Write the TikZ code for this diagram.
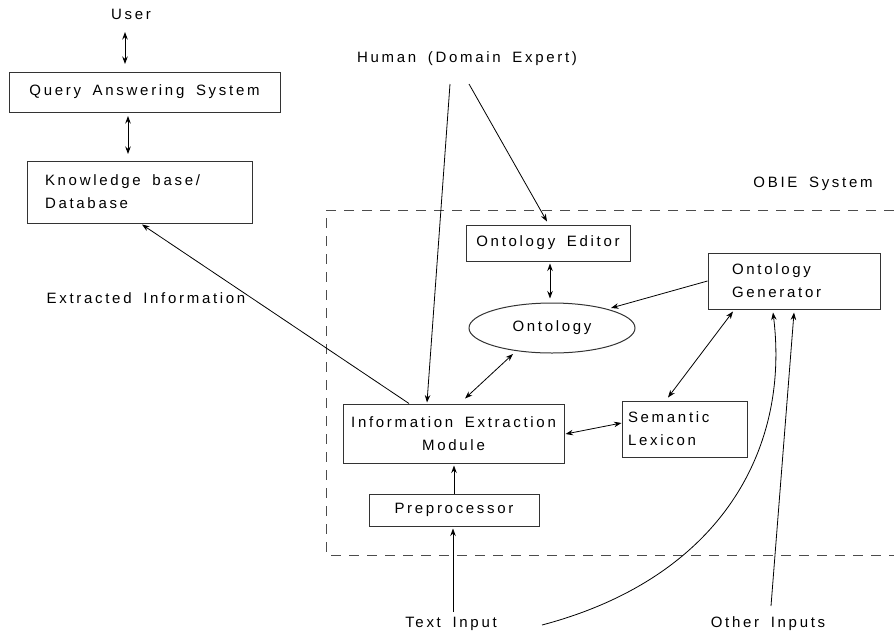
\documentclass[tikz,border=0pt]{standalone}
\usepackage{fontspec}
\setmainfont[LetterSpace=18,WordSpace=1.7]{Liberation Sans}
\usetikzlibrary{arrows.meta,shapes.geometric}
\begin{document}
\begin{tikzpicture}[x=1pt,y=-1pt,
  every node/.style={font=\fontsize{15}{23}\selectfont, inner sep=0pt},
  box/.style={draw=black!80, line width=1pt, rectangle},
  oval/.style={draw=black!80, line width=1pt, ellipse},
  arr/.style={-{Stealth[length=7.5pt,width=5.5pt]}, line width=0.8pt},
  darr/.style={{Stealth[length=7.5pt,width=5.5pt]}-{Stealth[length=7.5pt,width=5.5pt]}, line width=0.8pt},
  sysline/.style={dash pattern=on 10pt off 8pt, line width=1pt, draw=black!70}]
\useasboundingbox (0,0) rectangle (894,635);

\node (user) at (131,14) {User};
\node[box, minimum width=271pt, minimum height=40pt] (qas) at (144.5,92) {Query Answering System};
\node[box, minimum width=225pt, minimum height=62pt, text width=189pt, align=left] (kb) at (139.5,192) {\spaceskip=0pt\relax Knowledge base/\\Database};
\node (ext) at (146,298) {Extracted Information};
\node (human) at (467,59) {Human (Domain Expert)};
\node (obie) at (813,184) {OBIE System};
\node[box, minimum width=164pt, minimum height=36pt] (oe) at (548,243) {Ontology Editor};
\node[oval, minimum width=166pt, minimum height=50pt] (ont) at (552,328) {Ontology};
\node[box, minimum width=172pt, minimum height=56pt, text width=124pt, align=left] (og) at (794,281) {Ontology\\Generator};
\node[box, minimum width=221pt, minimum height=59pt, align=center] (iem) at (453.5,433.5) {Information Extraction\\Module};
\node[box, minimum width=125pt, minimum height=56pt, text width=113pt, align=left] (sl) at (684.5,429) {Semantic\\Lexicon};
\node[box, minimum width=170pt, minimum height=32pt] (pre) at (454,510) {Preprocessor};
\node (ti) at (451,624) {Text Input};
\node (oi) at (768,624) {Other Inputs};

\coordinate (h1) at (450,84);
\coordinate (h2) at (469,84);

\draw[sysline] (894,210) -- (326,210) -- (326,555) -- (894,555);

\draw[darr] ([shift={(-6,18)}]user.center) -- ([shift={(-19.5,-28)}]qas.center);
\draw[darr] ([shift={(-16.5,24)}]qas.center) -- ([shift={(-11.5,-38)}]kb.center);
\draw[arr] ([shift={(-44.5,0)}]iem.north) -- ([shift={(2.5,1)}]kb.south);
\draw[arr] (h1) -- ([shift={(-26.5,-1)}]iem.north);
\draw[arr] (h2) -- ([shift={(-1,-3)}]oe.north);
\draw[darr] ([shift={(2,2)}]oe.south) -- ([shift={(-2,-4)}]ont.north);
\draw[arr] (og.west) -- ([shift={(59,-20)}]ont.center);
\draw[darr] ([shift={(11.5,-5)}]iem.north) -- ([shift={(-39,26)}]ont.center);
\draw[darr] ([shift={(1,0.5)}]iem.east) -- ([shift={(0,-6)}]sl.west);
\draw[darr] ([shift={(-16.5,-3)}]sl.north) -- ([shift={(-61,2)}]og.south);
\draw[arr] (pre.north) -- ([shift={(0.5,2)}]iem.south);
\draw[arr] ([shift={(2,-12)}]ti.center) -- ([shift={(-1,2)}]pre.south);
\draw[arr] ([shift={(91,1)}]ti.center) .. controls (720,578) and (790,450) .. ([shift={(-21,3)}]og.south);
\draw[arr] ([shift={(3,-18)}]oi.center) -- ([shift={(0,3)}]og.south);
\end{tikzpicture}
\end{document}
